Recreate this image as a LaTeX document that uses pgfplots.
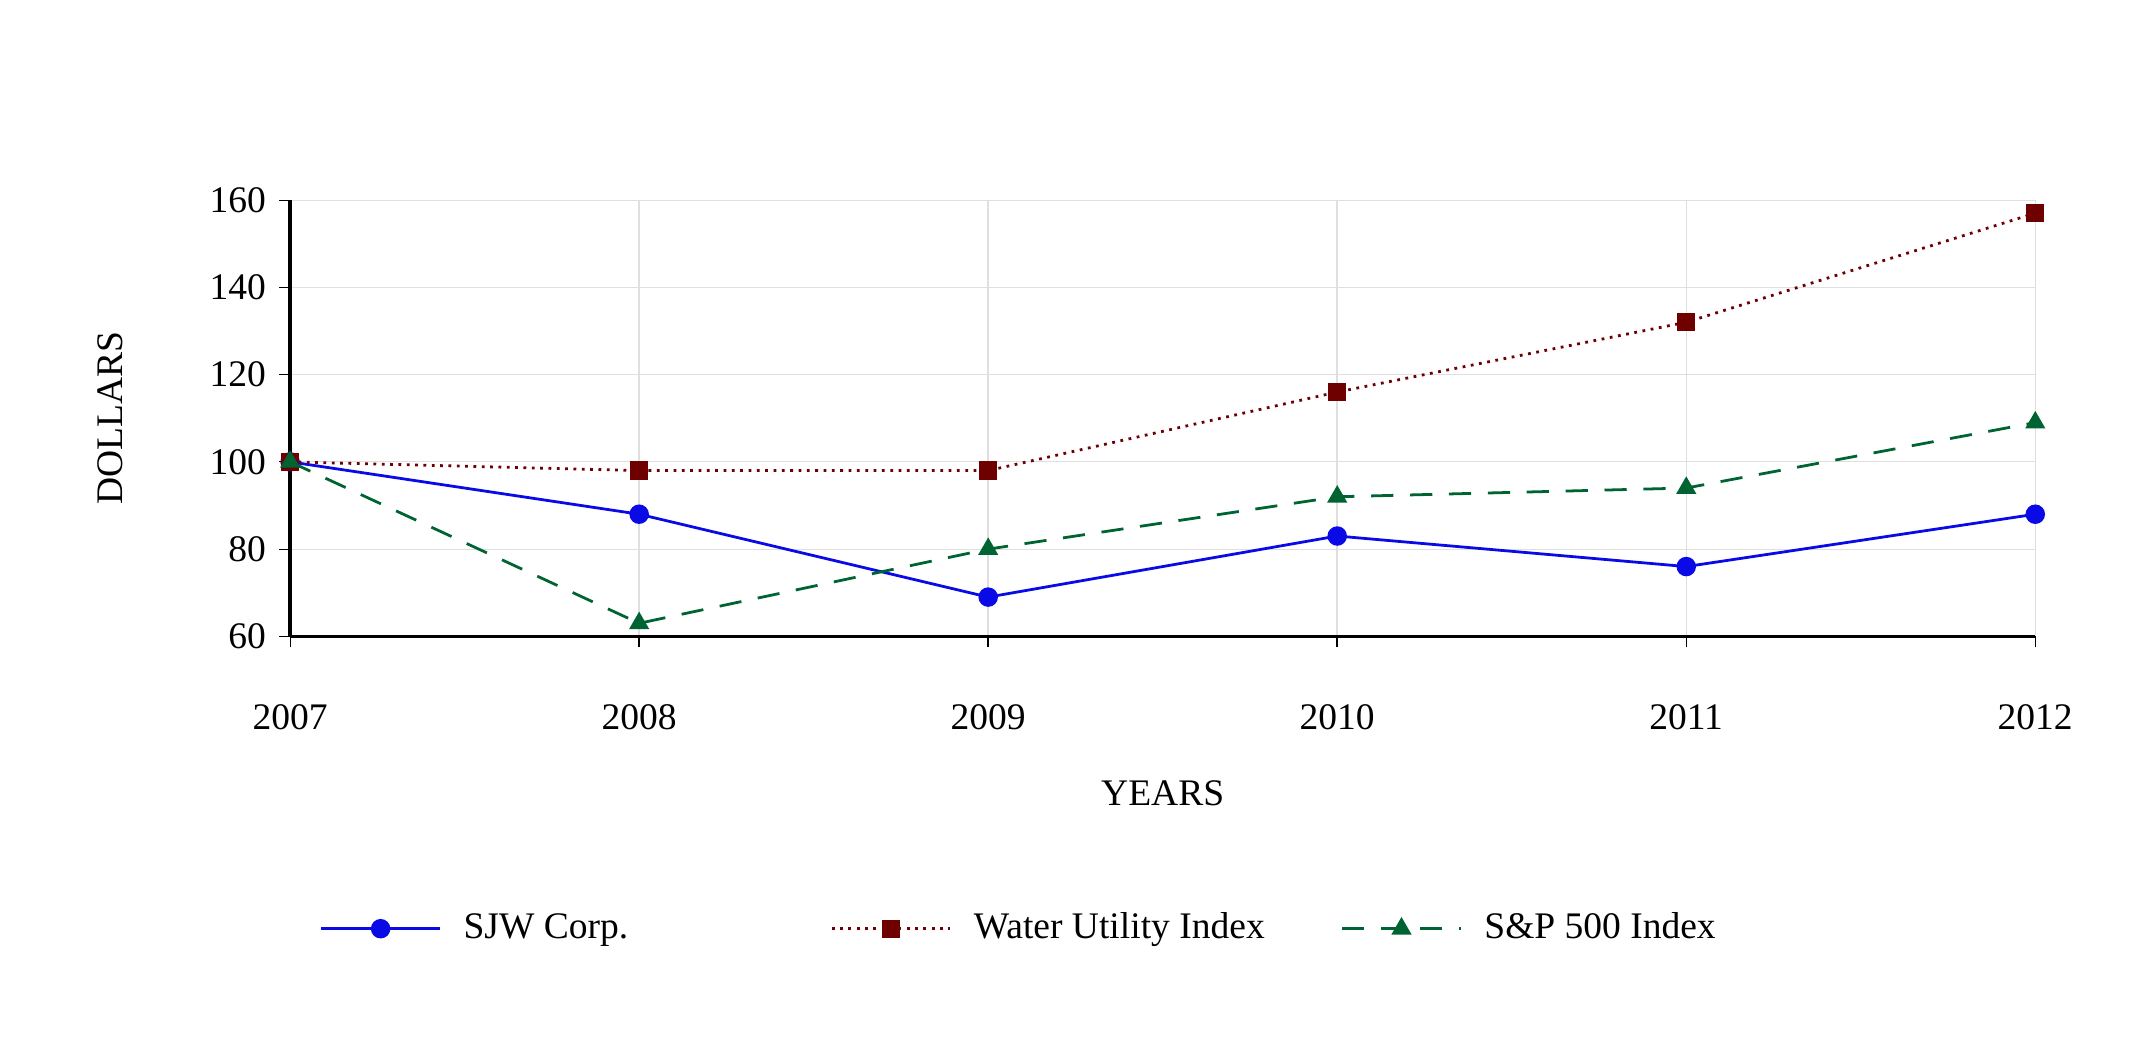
\documentclass[border=0pt]{standalone}
\usepackage{pgfplots}
\pgfplotsset{compat=1.18}
\usepackage{fontspec}
\setmainfont{Liberation Serif}
\definecolor{sjw}{RGB}{10,10,230}
\definecolor{wat}{RGB}{110,0,0}
\definecolor{snp}{RGB}{0,100,50}
\begin{document}
\fontsize{13.5}{16}\selectfont
\begin{tikzpicture}
\useasboundingbox (0,0) rectangle (769pt,375pt);
\begin{axis}[
  at={(104.4pt,146pt)}, anchor=origin, scale only axis,
  width=628pt, height=157pt,
  xmin=2007, xmax=2012, ymin=60, ymax=160,
  xtick={2007,...,2012}, ytick={60,80,...,160},
  xticklabel style={/pgf/number format/1000 sep={}, yshift=-16pt},
  /pgf/number format/assume math mode=true,
  axis x line=bottom, axis y line=left,
  axis line style={black, line width=1.2pt, -},
  tick style={black, thin}, major tick length=4pt,
  tick align=outside,
  grid=major, grid style={gray!25, thin},
  xlabel={YEARS}, ylabel={DOLLARS},
  xlabel style={yshift=-9pt}, ylabel style={yshift=22pt},
  clip=false,
  legend columns=3,
  legend style={at={(0.012,-0.67)}, anchor=west, draw=none, fill=none,
    /tikz/every even column/.append style={column sep=0pt}},
  legend cell align=left,
  legend image code/.code={\draw[#1,mark repeat=2,mark phase=2] plot coordinates {(0,0) (0.75cm,0) (1.5cm,0)};},
]
\addplot[sjw, line width=1pt, mark=*, mark size=3pt, mark options={solid}] coordinates {(2007,100)(2008,88)(2009,69)(2010,83)(2011,76)(2012,88)};
\addlegendentry{\makebox[136pt][l]{\hspace{6pt}SJW Corp.}}
\addplot[wat, line width=1pt, dotted, mark=square*, mark size=2.8pt, mark options={solid}] coordinates {(2007,100)(2008,98)(2009,98)(2010,116)(2011,132)(2012,157)};
\addlegendentry{\makebox[136pt][l]{\hspace{6pt}Water Utility Index}}
\addplot[snp, line width=1pt, dash pattern=on 8pt off 6pt, mark=triangle*, mark size=3.2pt, mark options={solid}] coordinates {(2007,100)(2008,63)(2009,80)(2010,92)(2011,94)(2012,109)};
\addlegendentry{\hspace{6pt}S\&P 500 Index}
\end{axis}
\end{tikzpicture}
\end{document}
